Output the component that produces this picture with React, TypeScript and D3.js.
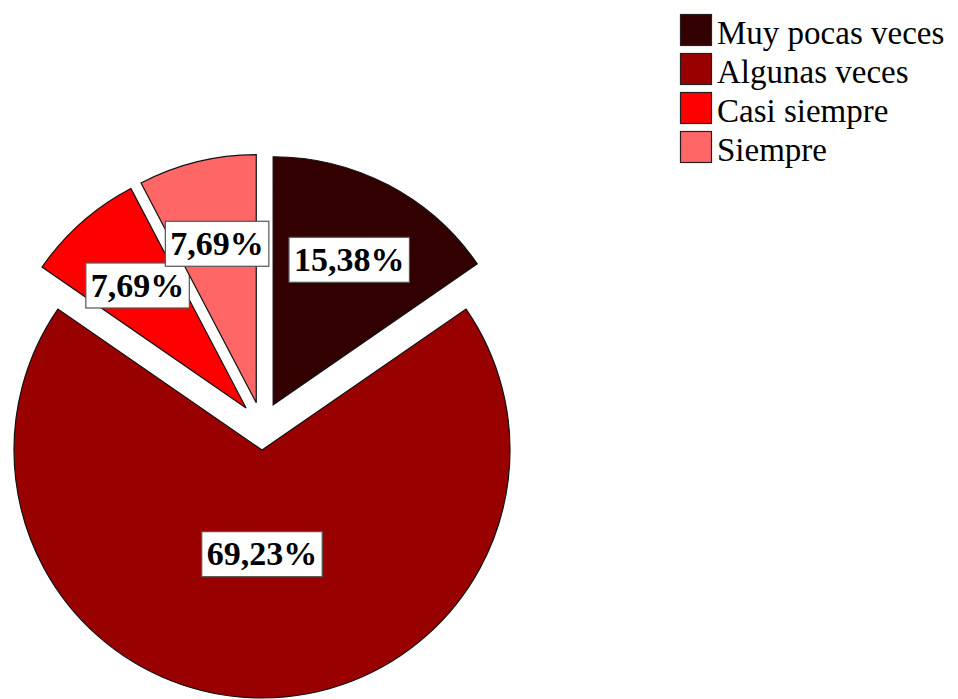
import React, { useEffect, useRef } from "react";
import * as d3 from "d3";

const categories = ["Muy pocas veces", "Algunas veces", "Casi siempre", "Siempre"];
const values = [15.38, 69.23, 7.69, 7.69];
const labels = ["15,38%", "69,23%", "7,69%", "7,69%"];
const colors = ["#330000", "#990000", "#ff0000", "#ff6666"];

export default function App() {
  const ref = useRef<SVGSVGElement | null>(null);

  useEffect(() => {
    document.body.style.margin = "0";
    const svg = d3.select(ref.current);
    svg.selectAll("*").remove();

    const W = 958, H = 699;
    const cx = 262, cy = 426, R = 248, explode = 24;
    const font = '"Liberation Serif", serif';

    const pie = d3.pie<number>().sort(null).value((d) => d).startAngle(0).endAngle(2 * Math.PI);
    const arcs = pie(values);
    const arc = d3.arc<d3.PieArcDatum<number>>().innerRadius(0).outerRadius(R);

    const g = svg.append("g").attr("transform", `translate(${cx},${cy})`);

    const slices = g
      .selectAll("g.slice")
      .data(arcs)
      .enter()
      .append("g")
      .attr("class", "slice")
      .attr("transform", (d) => {
        const m = (d.startAngle + d.endAngle) / 2;
        return `translate(${Math.sin(m) * explode},${-Math.cos(m) * explode})`;
      });

    slices
      .append("path")
      .attr("d", (d) => arc(d) as string)
      .attr("fill", (d, i) => colors[i])
      .attr("stroke", "#111")
      .attr("stroke-width", 1.2)
      .attr("stroke-linejoin", "miter");

    // labels
    slices.each(function (d, i) {
      const m = (d.startAngle + d.endAngle) / 2;
      const frac = d.value > 50 ? 0.42 : 0.66;
      const lx = Math.sin(m) * R * frac;
      const ly = -Math.cos(m) * R * frac;
      const lg = d3.select(this).append("g");
      const rect = lg.append("rect");
      const t = lg
        .append("text")
        .attr("x", lx)
        .attr("y", ly + 11)
        .attr("text-anchor", "middle")
        .style("font-family", font)
        .style("font-weight", "bold")
        .style("font-size", "34px")
        .attr("fill", "#000")
        .text(labels[i]);
      const bb = (t.node() as SVGTextElement).getBBox();
      const w = bb.width + 10;
      const h = 45;
      rect
        .attr("x", lx - w / 2)
        .attr("y", ly - h / 2)
        .attr("width", w)
        .attr("height", h)
        .attr("fill", "#fff")
        .attr("stroke", "#555")
        .attr("stroke-width", 1.2);
    });

    // legend
    const legend = svg.append("g").attr("transform", "translate(680,14)");
    const items = legend
      .selectAll("g.item")
      .data(categories)
      .enter()
      .append("g")
      .attr("transform", (d, i) => `translate(0,${i * 39})`);
    items
      .append("rect")
      .attr("x", 0.5)
      .attr("y", 0.5)
      .attr("width", 31)
      .attr("height", 31)
      .attr("fill", (d, i) => colors[i])
      .attr("stroke", "#222")
      .attr("stroke-width", 1.2);
    items
      .append("text")
      .attr("x", 37)
      .attr("y", 30)
      .style("font-family", font)
      .style("font-size", "33px")
      .attr("fill", "#000")
      .text((d) => d);

    svg.attr("width", W).attr("height", H);
  }, []);

  return <svg ref={ref} width={958} height={699} style={{ display: "block", background: "#fff" }} />;
}
